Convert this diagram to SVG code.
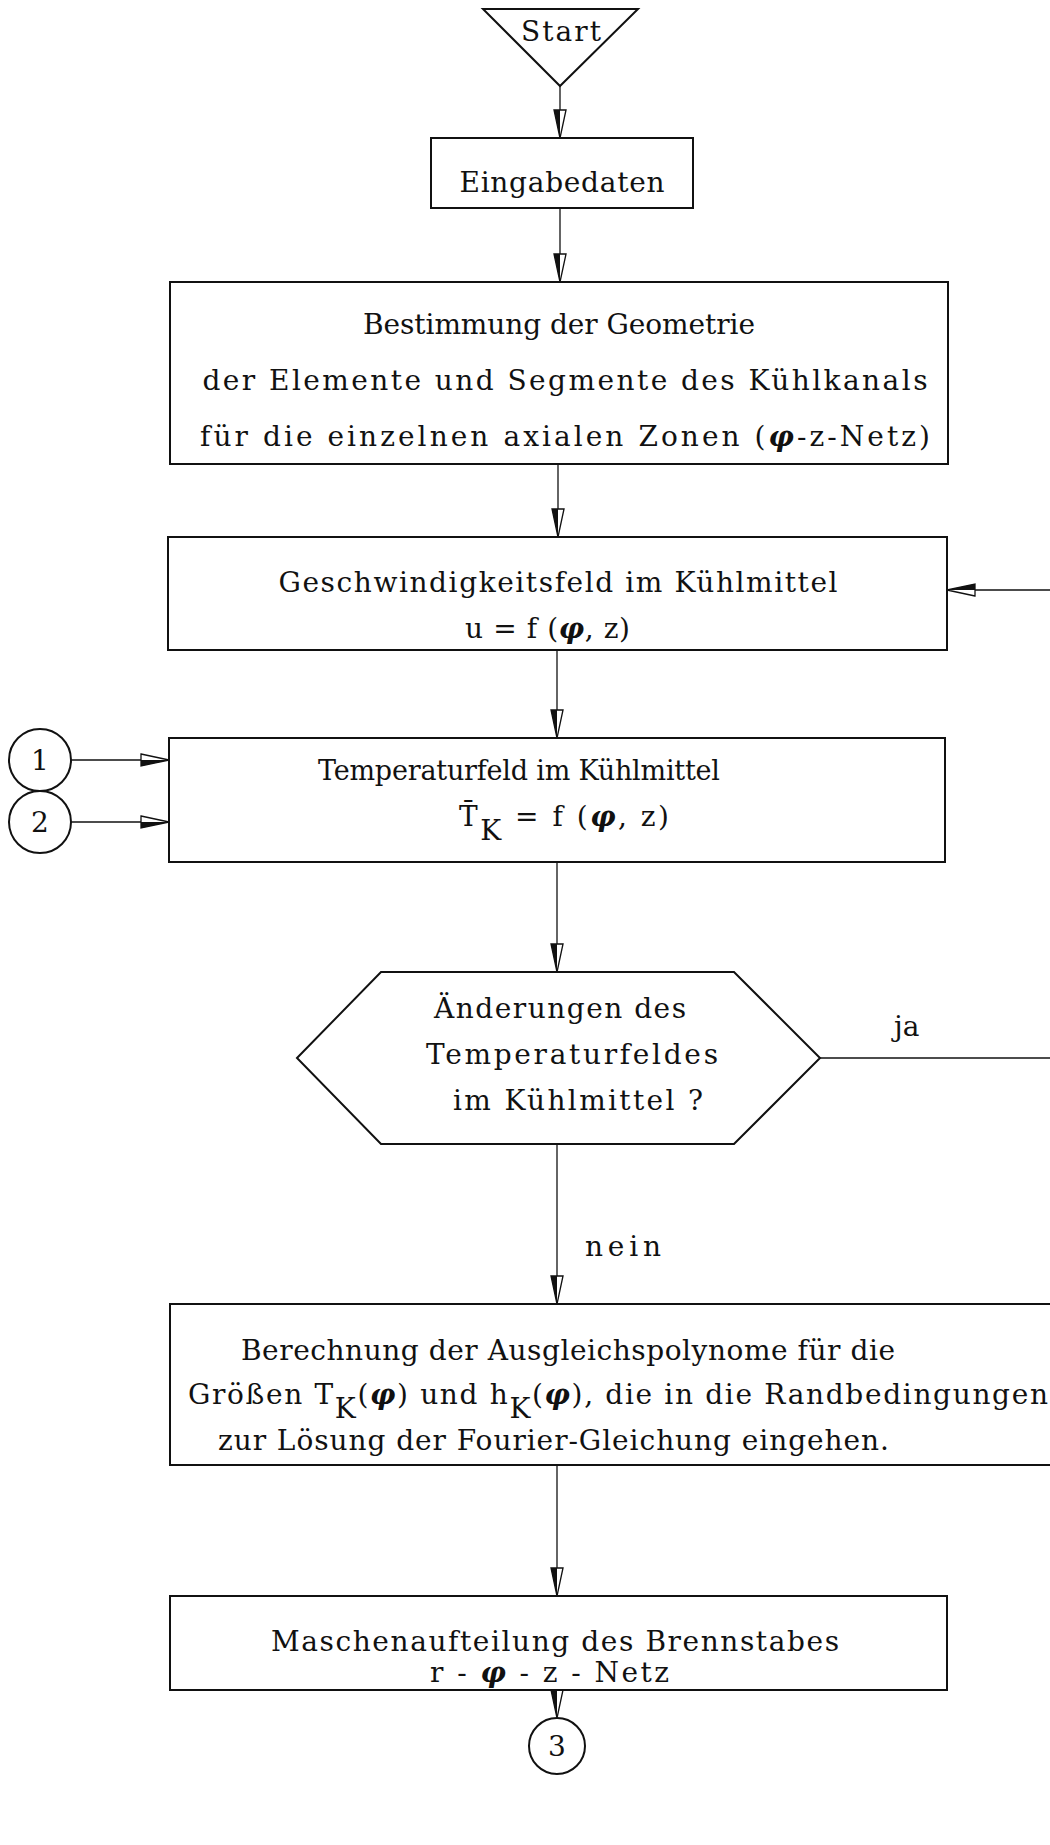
<svg xmlns="http://www.w3.org/2000/svg" width="1050" height="1845" viewBox="0 0 1050 1845">
<style>
.t{font-family:"DejaVu Serif","Liberation Serif",serif;font-size:28px;fill:#111;}
.s{font-size:27px;}
.m{text-anchor:middle;}
.phi{font-weight:bold;font-style:italic;}
.box{fill:#fff;stroke:#111;stroke-width:2;}
.ln{fill:none;stroke:#111;stroke-width:1.3;}
.arr{fill:none;stroke:#111;stroke-width:1.3;marker-end:url(#ah);}
</style>
<defs>
<marker id="ah" viewBox="0 0 30 14" refX="29" refY="7" markerWidth="30" markerHeight="14" markerUnits="userSpaceOnUse" orient="auto">
<path d="M1,1 L29,7 L1,13 Z" fill="#fff" stroke="#111" stroke-width="1.3"/>
<path d="M1,7 L29,7 L1,13 Z" fill="#111"/>
</marker>
</defs>
<rect width="1050" height="1845" fill="#fff"/>

<g id="connectors">
<line class="arr" x1="560" y1="86" x2="560" y2="138"/>
<line class="arr" x1="560" y1="208" x2="560" y2="282"/>
<line class="arr" x1="558" y1="464" x2="558" y2="537"/>
<line class="arr" x1="557" y1="650" x2="557" y2="738"/>
<line class="arr" x1="557" y1="862" x2="557" y2="972"/>
<line class="arr" x1="557" y1="1144" x2="557" y2="1304"/>
<line class="arr" x1="557" y1="1465" x2="557" y2="1596"/>
<line class="arr" x1="557" y1="1690" x2="557" y2="1718"/>
<line class="arr" x1="71" y1="760" x2="169" y2="760"/>
<line class="arr" x1="71" y1="822" x2="169" y2="822"/>
<line class="ln" x1="820" y1="1058" x2="1052" y2="1058"/>
<line class="arr" x1="1052" y1="590" x2="947" y2="590"/>
<text class="t" x="894" y="1036">ja</text>
<text class="t" x="585" y="1256" textLength="76" lengthAdjust="spacing">nein</text>
</g>

<g id="start">
<polygon class="box" points="483,9 638,9 560,86"/>
<text class="t m" x="561" y="41" font-size="26" textLength="80" lengthAdjust="spacing">Start</text>
</g>

<g id="eingabe">
<rect class="box" x="431" y="138" width="262" height="70"/>
<text class="t m" x="562" y="192" textLength="205" lengthAdjust="spacing">Eingabedaten</text>
</g>

<g id="geometrie">
<rect class="box" x="170" y="282" width="778" height="182"/>
<text class="t m" x="559" y="334" textLength="392" lengthAdjust="spacing">Bestimmung der Geometrie</text>
<text class="t m" x="565" y="390" textLength="725" lengthAdjust="spacing">der Elemente und Segmente des Kühlkanals</text>
<text class="t m" x="565" y="446" textLength="730" lengthAdjust="spacing">für die einzelnen axialen Zonen (<tspan class="phi">φ</tspan>-z-Netz)</text>
</g>

<g id="geschwindigkeit">
<rect class="box" x="168" y="537" width="779" height="113"/>
<text class="t m" x="558" y="592" textLength="559" lengthAdjust="spacing">Geschwindigkeitsfeld im Kühlmittel</text>
<text class="t" x="465" y="638" textLength="165" lengthAdjust="spacing">u = f (<tspan class="phi">φ</tspan>, z)</text>
</g>

<g id="c1">
<circle class="box" cx="40" cy="760" r="31"/>
<text class="t m" x="40" y="770">1</text>
</g>
<g id="c2">
<circle class="box" cx="40" cy="822" r="31"/>
<text class="t m" x="40" y="832">2</text>
</g>

<g id="temperatur">
<rect class="box" x="169" y="738" width="776" height="124"/>
<text class="t s" x="318" y="780" textLength="402" lengthAdjust="spacing">Temperaturfeld im Kühlmittel</text>
<text class="t" x="459" y="826" textLength="210" lengthAdjust="spacing">T̄<tspan dy="14">K</tspan><tspan dy="-14"> = f (</tspan><tspan class="phi">φ</tspan>, z)</text>
</g>

<g id="entscheidung">
<polygon class="box" points="297,1058 381,972 734,972 820,1058 734,1144 381,1144"/>
<text class="t" x="434" y="1018" textLength="252" lengthAdjust="spacing">Änderungen des</text>
<text class="t" x="426" y="1064" textLength="292" lengthAdjust="spacing">Temperaturfeldes</text>
<text class="t" x="453" y="1110" textLength="250" lengthAdjust="spacing">im Kühlmittel ?</text>
</g>

<g id="berechnung">
<path class="box" d="M1052,1304 H170 V1465 H1052"/>
<text class="t" x="241" y="1360" textLength="654" lengthAdjust="spacing">Berechnung der Ausgleichspolynome für die</text>
<text class="t" x="188" y="1404" textLength="860" lengthAdjust="spacing">Größen T<tspan dy="14">K</tspan><tspan dy="-14">(</tspan><tspan class="phi">φ</tspan>) und h<tspan dy="14">K</tspan><tspan dy="-14">(</tspan><tspan class="phi">φ</tspan>),  die in die Randbedingungen</text>
<text class="t" x="218" y="1450" textLength="671" lengthAdjust="spacing">zur Lösung der Fourier-Gleichung eingehen.</text>
</g>

<g id="maschen">
<rect class="box" x="170" y="1596" width="777" height="94"/>
<text class="t m" x="555" y="1651" textLength="568" lengthAdjust="spacing">Maschenaufteilung des Brennstabes</text>
<text class="t" x="430" y="1682" textLength="239" lengthAdjust="spacing">r - <tspan class="phi">φ</tspan> - z - Netz</text>
</g>

<g id="c3">
<circle class="box" cx="557" cy="1746" r="28"/>
<text class="t m" x="557" y="1756">3</text>
</g>
</svg>
